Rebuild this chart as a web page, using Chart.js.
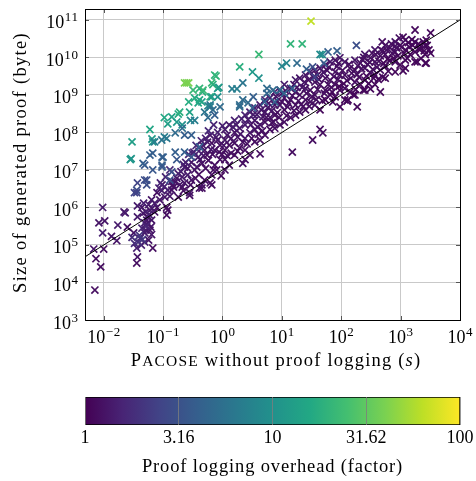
<!DOCTYPE html>
<html>
<head>
<meta charset="utf-8">
<script src="https://cdn.jsdelivr.net/npm/chart.js@4.4.1/dist/chart.umd.min.js"></script>
<style>
    html, body { margin: 0; padding: 0; background: #fff; }
    canvas { display: block; }
</style>
</head>
<body>
<canvas id="scatter" width="476" height="375"></canvas>
<canvas id="colorbar" width="476" height="106"></canvas>
<script>
// [runtime without proof logging (s), proof size (byte), overhead factor]
const lowerLeftRuns = [
    [0.0071, 6.3e3, 1.2], [0.0074, 4.3e4, 1.2], [0.0089, 2.6e4, 1.2], [0.0068, 7.8e4, 1.3],
    [0.010, 7.8e4, 1.2], [0.0096, 1.0e6, 1.4], [0.0104, 4.4e5, 1.3], [0.0083, 3.9e5, 1.3],
    [0.0096, 2.1e5, 1.5], [0.0135, 1.7e5, 1.3], [0.0166, 1.3e5, 1.3], [0.0173, 3.4e5, 1.4],
    [0.022, 7.6e5, 1.3], [0.023, 7.2e5, 1.4], [0.025, 3.0e5, 1.2], [0.032, 2.1e5, 1.3],
    [0.037, 5.6e5, 1.4], [0.046, 7.1e5, 1.3], [0.055, 5.6e5, 1.2], [0.049, 3.9e5, 1.5],
    [0.060, 2.5e5, 1.3], [0.049, 2.1e5, 1.4], [0.041, 1.5e5, 1.7], [0.033, 1.1e5, 1.8],
    [0.036, 8.3e4, 1.5], [0.037, 4.8e4, 1.3], [0.036, 3.3e4, 1.2], [0.049, 1.2e5, 1.6],
    [0.064, 1.9e5, 1.3], [0.067, 8.3e4, 1.2], [0.053, 4.6e5, 1.3], [0.044, 2.8e5, 1.6],
    [0.030, 1.6e5, 1.8], [0.055, 3.9e5, 1.4], [0.064, 4.6e5, 1.3], [0.044, 1.0e6, 1.3],
    [0.037, 1.1e6, 1.4], [0.079, 1.0e6, 1.2], [0.064, 1.6e6, 1.3], [0.079, 2.5e6, 1.2],
    [0.096, 4.0e6, 1.3], [0.115, 6.3e5, 1.2], [0.115, 1.0e6, 1.2], [0.145, 4.0e6, 1.2],
    [0.21, 3.5e6, 1.2], [0.23, 4.5e6, 1.3], [0.28, 2.1e6, 1.2], [0.41, 3.3e6, 1.2],
    [0.66, 4.0e6, 1.2], [0.45, 4.0e6, 1.3], [0.051, 7.6e5, 1.4], [0.060, 8.5e5, 1.3],
    [0.047, 1.3e6, 1.5], [0.057, 1.2e6, 1.4], [0.072, 7.6e5, 1.2], [0.062, 3.0e5, 1.3],
    [0.051, 2.5e5, 1.4], [0.043, 1.0e5, 1.5], [0.057, 1.35e5, 1.3],
    [0.040, 1.8e5, 2.0], [0.045, 1.4e5, 2.1], [0.038, 1.2e5, 1.9], [0.052, 3.2e5, 1.6],
    [0.058, 6.5e5, 1.5], [0.065, 9.5e5, 1.4]
];

const bandLowRuns = [
    [0.62, 8.5e7, 1.3], [0.66, 5.2e7, 1.2], [0.83, 6.3e7, 1.3], [0.50, 3.4e7, 1.3],
    [0.39, 2.2e7, 1.4], [0.30, 1.6e7, 1.3], [0.23, 1.2e7, 1.4], [0.21, 6.5e6, 1.3],
    [0.16, 4.8e6, 1.3], [0.12, 2.9e6, 1.4], [0.107, 1.9e6, 1.3], [0.088, 1.6e6, 1.3],
    [0.072, 1.3e6, 1.4], [0.45, 1.5e7, 1.2], [0.50, 5.4e6, 1.2], [0.66, 7.4e6, 1.2],
    [0.30, 5.4e6, 1.3], [0.45, 3.3e6, 1.2], [0.28, 2.5e6, 1.3], [0.18, 1.9e6, 1.2],
    [0.62, 4.5e6, 1.2], [0.34, 1.0e7, 1.3], [0.26, 7.4e6, 1.4], [0.19, 4.0e6, 1.3],
    [0.14, 2.9e6, 1.3], [0.42, 1.9e7, 1.3], [0.55, 2.5e7, 1.2], [0.74, 3.4e7, 1.3],
    [0.91, 4.6e7, 1.2], [0.74, 1.35e7, 1.2], [0.91, 1.9e7, 1.2], [0.37, 1.2e7, 1.3],
    [0.12, 8.5e5, 1.2], [0.83, 1.0e8, 1.5], [0.71, 1.6e8, 1.6],
    [0.13, 2.0e6, 1.3], [0.15, 3.5e6, 1.2], [0.17, 6.0e6, 1.3], [0.20, 9.0e6, 1.4],
    [0.24, 1.6e7, 1.5], [0.27, 2.6e7, 1.6], [0.33, 3.0e7, 1.5], [0.36, 4.5e7, 1.7],
    [0.44, 6.0e7, 1.6], [0.52, 7.0e7, 1.5], [0.58, 1.1e8, 1.7], [0.48, 2.4e7, 1.3],
    [0.58, 1.8e7, 1.2], [0.68, 2.6e7, 1.2], [0.80, 1.0e7, 1.2], [0.95, 7.0e6, 1.1],
    [0.35, 6.0e6, 1.2], [0.22, 2.8e6, 1.2], [0.095, 2.8e6, 1.4], [0.085, 3.3e6, 1.5],
    [0.11, 6.5e6, 1.6], [0.13, 1.0e7, 1.7], [0.09, 4.5e6, 1.6],
    [0.105, 3.6e6, 1.5], [0.14, 5.0e6, 1.4], [0.18, 8.0e6, 1.5], [0.22, 1.4e7, 1.5],
    [0.26, 1.1e7, 1.3], [0.31, 2.8e7, 1.6], [0.40, 3.2e7, 1.5], [0.47, 4.5e7, 1.4],
    [0.56, 5.5e7, 1.4], [0.64, 3.5e7, 1.3], [0.78, 7.5e7, 1.4], [0.88, 3.0e7, 1.2],
    [0.70, 1.0e7, 1.2], [0.52, 1.1e7, 1.2], [0.40, 7.5e6, 1.2], [0.29, 4.0e6, 1.2]
];

const bandMidRuns = [
    [1.1, 1.2e8, 1.4], [1.1, 6.3e7, 1.3], [1.1, 3.4e7, 1.2], [1.1, 1.9e7, 1.2], [1.1, 1.0e7, 1.2],
    [1.6, 2.1e8, 1.5], [1.6, 1.0e8, 1.3], [1.6, 5.2e7, 1.2], [1.6, 2.5e7, 1.2],
    [2.4, 2.9e8, 1.5], [2.4, 1.6e8, 1.4], [2.4, 7.0e7, 1.3], [2.4, 3.4e7, 1.2], [2.4, 1.9e7, 1.2],
    [3.5, 4.5e8, 1.5], [3.5, 2.1e8, 1.3], [3.5, 1.2e8, 1.3], [3.5, 5.6e7, 1.2],
    [5.2, 7.4e8, 1.5], [5.2, 3.5e8, 1.3], [5.2, 1.9e8, 1.2], [5.2, 8.5e7, 1.2],
    [7.6, 1.2e9, 1.4], [7.6, 5.4e8, 1.3], [7.6, 2.9e8, 1.2], [7.6, 1.3e8, 1.2],
    [11, 1.9e9, 1.4], [11, 8.3e8, 1.3], [11, 4.0e8, 1.2], [11, 1.9e8, 1.2],
    [17, 2.5e9, 1.4], [17, 1.2e9, 1.3], [17, 5.4e8, 1.2], [17, 2.9e8, 1.2],
    [25, 3.4e9, 1.3], [25, 1.5e9, 1.3], [25, 7.4e8, 1.2], [25, 4.0e8, 1.2],
    [36, 4.6e9, 1.3], [36, 2.2e9, 1.2], [36, 1.0e9, 1.2], [36, 5.4e8, 1.2],
    [54, 6.3e9, 1.3], [54, 2.8e9, 1.2], [54, 1.35e9, 1.2], [54, 7.4e8, 1.1],
    [79, 8.5e9, 1.3], [79, 4.1e9, 1.2], [79, 1.9e9, 1.2], [79, 8.9e8, 1.1],
    [1.3, 1.6e8, 1.4], [1.3, 4.6e7, 1.2], [1.3, 1.35e7, 1.2],
    [1.95, 1.3e8, 1.3], [1.95, 3.9e7, 1.2],
    [2.9, 3.5e8, 1.4], [2.9, 9.8e7, 1.3], [2.9, 2.5e7, 1.2],
    [4.3, 5.4e8, 1.4], [4.3, 1.6e8, 1.3], [4.3, 6.3e7, 1.2],
    [6.3, 8.3e8, 1.4], [6.3, 2.5e8, 1.3], [6.3, 1.2e8, 1.2],
    [9.3, 1.35e9, 1.4], [9.3, 5.4e8, 1.3], [9.3, 1.6e8, 1.2],
    [14, 1.5e9, 1.3], [14, 7.4e8, 1.2], [14, 2.5e8, 1.2],
    [20, 2.8e9, 1.3], [20, 1.0e9, 1.2], [20, 3.5e8, 1.2],
    [30, 4.1e9, 1.3], [30, 1.35e9, 1.2], [30, 6.5e8, 1.2],
    [44, 5.2e9, 1.3], [44, 1.9e9, 1.2], [44, 4.0e8, 1.1],
    [65, 7.6e9, 1.3], [65, 2.5e9, 1.2], [65, 1.0e9, 1.1],
    [95, 9.8e9, 1.3], [95, 3.4e9, 1.2], [95, 1.35e9, 1.1],
    [15, 3.0e7, 1.2], [4.3, 2.7e7, 1.2], [33, 6.3e7, 1.2], [49, 9.8e7, 1.2], [44, 1.2e8, 1.2],
    [2.2, 1.5e7, 1.2], [126, 6.9e8, 1.1], [186, 4.8e8, 1.1], [310, 1.45e9, 1.1],
    [1.2, 8.5e7, 1.3], [1.4, 2.8e7, 1.2], [1.5, 1.4e8, 1.4], [1.8, 7.5e7, 1.3],
    [2.1, 2.3e8, 1.5], [2.6, 5.0e7, 1.2], [3.0, 1.6e8, 1.3], [3.8, 3.0e8, 1.4],
    [4.0, 9.0e7, 1.2], [4.8, 2.6e8, 1.3], [5.8, 4.6e8, 1.3], [6.8, 1.8e8, 1.2],
    [8.4, 7.0e8, 1.3], [8.4, 3.4e8, 1.2], [10, 1.1e9, 1.3], [12, 2.8e8, 1.2],
    [13, 6.0e8, 1.2], [16, 1.9e9, 1.3], [19, 7.0e8, 1.2], [22, 1.6e9, 1.3],
    [23, 5.0e8, 1.2], [28, 2.5e9, 1.2], [32, 9.0e8, 1.2], [40, 3.4e9, 1.2],
    [40, 1.4e9, 1.2], [48, 7.0e8, 1.1], [58, 4.5e9, 1.2], [60, 1.9e9, 1.2],
    [70, 1.2e9, 1.1], [85, 5.8e9, 1.2], [88, 2.6e9, 1.2], [0.98, 2.6e7, 1.2], [1.0, 1.5e8, 1.5],
    [1.05, 4.5e7, 1.3], [1.2, 2.4e7, 1.2], [1.4, 7.0e7, 1.3], [1.7, 1.6e8, 1.4],
    [1.8, 3.2e7, 1.2], [2.0, 9.0e7, 1.3], [2.2, 5.5e7, 1.2], [2.7, 2.2e8, 1.4],
    [3.1, 7.0e7, 1.2], [3.3, 3.0e8, 1.4], [3.9, 1.4e8, 1.3], [4.5, 4.0e8, 1.3],
    [4.7, 1.1e8, 1.2], [5.5, 2.5e8, 1.2], [6.0, 6.0e8, 1.3], [6.8, 3.8e8, 1.3],
    [7.2, 1.9e8, 1.2], [8.0, 9.0e8, 1.3], [9.0, 2.5e8, 1.2], [10, 6.5e8, 1.2],
    [11.5, 1.3e9, 1.3], [12.5, 4.8e8, 1.2], [15, 9.5e8, 1.2], [16, 3.8e8, 1.2],
    [18, 1.6e9, 1.3], [21, 5.5e8, 1.2], [24, 2.2e9, 1.3], [26, 1.1e9, 1.2],
    [29, 5.0e8, 1.2], [34, 3.0e9, 1.3], [38, 7.5e8, 1.2], [42, 2.6e9, 1.2],
    [50, 4.0e9, 1.3], [52, 1.1e9, 1.2], [62, 5.5e9, 1.2], [68, 1.6e9, 1.2],
    [75, 3.1e9, 1.2], [90, 7.0e9, 1.2], [92, 1.7e9, 1.1]
];

const bandHighRuns = [
    [115, 7.6e9, 1.3], [115, 3.4e9, 1.2], [115, 1.5e9, 1.2], [115, 7.4e8, 1.1],
    [170, 8.5e9, 1.3], [170, 4.6e9, 1.2], [170, 2.2e9, 1.2], [170, 1.0e9, 1.1],
    [250, 1.2e10, 1.3], [250, 5.2e9, 1.2], [250, 2.5e9, 1.2], [250, 1.35e9, 1.1],
    [370, 1.6e10, 1.3], [370, 7.6e9, 1.2], [370, 3.4e9, 1.2], [370, 1.9e9, 1.1],
    [550, 2.1e10, 1.3], [550, 1.2e10, 1.2], [550, 5.9e9, 1.2], [550, 2.8e9, 1.1],
    [810, 2.6e10, 1.3], [810, 1.4e10, 1.2], [810, 7.6e9, 1.2], [810, 4.1e9, 1.1],
    [1200, 2.9e10, 1.2], [1200, 1.6e10, 1.2], [1200, 8.5e9, 1.1], [1200, 5.2e9, 1.1],
    [1750, 2.6e10, 1.2], [1750, 1.4e10, 1.1], [1750, 7.6e9, 1.1],
    [2600, 2.1e10, 1.2], [2600, 1.2e10, 1.1], [2600, 7.1e9, 1.1],
    [140, 5.2e9, 1.2], [140, 1.2e9, 1.1], [210, 7.1e9, 1.2], [210, 1.9e9, 1.1],
    [310, 9.8e9, 1.2], [310, 3.9e9, 1.2], [455, 1.1e10, 1.2], [455, 4.6e9, 1.2],
    [455, 1.2e9, 1.1], [660, 1.8e10, 1.2], [660, 8.5e9, 1.1], [980, 2.1e10, 1.2],
    [980, 6.3e9, 1.1], [1450, 1.2e10, 1.1], [2100, 1.8e10, 1.1],
    [1750, 5.4e10, 1.1], [3200, 4.5e10, 1.1], [1100, 3.5e10, 1.1], [1350, 2.5e10, 1.1],
    [2700, 2.9e10, 1.1], [490, 2.6e10, 1.2], [810, 2.0e10, 1.2], [1900, 7.6e9, 1.1],
    [2700, 7.1e9, 1.1], [1100, 4.4e9, 1.1], [500, 3.0e9, 1.1], [350, 2.8e9, 1.1],
    [235, 1.35e9, 1.1], [130, 7.4e8, 1.1], [160, 1.0e9, 1.1], [72, 6.5e8, 1.1],
    [95, 4.8e8, 1.1], [2800, 2.1e10, 1.1], [2100, 1.6e10, 1.1], [3200, 1.3e10, 1.1],
    [125, 2.4e9, 1.2], [150, 3.8e9, 1.2], [190, 6.0e9, 1.2], [200, 3.0e9, 1.1],
    [230, 8.5e9, 1.2], [280, 6.5e9, 1.2], [290, 2.0e9, 1.1], [330, 1.3e10, 1.2],
    [400, 5.5e9, 1.2], [420, 2.6e9, 1.1], [500, 1.5e10, 1.2], [600, 9.0e9, 1.1],
    [620, 4.3e9, 1.1], [720, 1.3e10, 1.2], [900, 1.1e10, 1.1], [950, 3.3e10, 1.2],
    [1050, 1.9e10, 1.1], [1300, 9.5e9, 1.1], [1600, 2.1e10, 1.1], [2200, 9.5e9, 1.1],
    [2400, 2.6e10, 1.1], [3000, 1.6e10, 1.1],
    [105, 4.5e9, 1.2], [110, 2.0e9, 1.1], [135, 6.5e9, 1.2], [145, 2.8e9, 1.2],
    [175, 1.4e9, 1.1], [185, 3.5e9, 1.2], [220, 5.0e9, 1.2], [240, 1.0e10, 1.2],
    [265, 3.2e9, 1.1], [300, 7.5e9, 1.2], [340, 4.8e9, 1.2], [380, 1.2e10, 1.2],
    [430, 8.0e9, 1.2], [470, 1.6e10, 1.2], [520, 7.0e9, 1.1], [580, 1.6e10, 1.2],
    [700, 2.3e10, 1.2], [760, 9.5e9, 1.1], [850, 1.8e10, 1.2], [1150, 1.3e10, 1.1],
    [1400, 1.9e10, 1.1], [1550, 3.0e10, 1.1], [2000, 2.3e10, 1.1], [2500, 1.5e10, 1.1]
];

const costlyRuns = [
    [0.030, 5.6e7, 13], [0.028, 1.9e7, 11], [0.029, 2.0e7, 11],
    [0.060, 1.2e8, 15], [0.065, 6.7e7, 12], [0.067, 5.6e7, 11],
    [0.115, 7.0e7, 6], [0.105, 2.5e8, 16], [0.14, 2.6e8, 14], [0.18, 3.1e8, 16],
    [0.12, 1.7e8, 13], [0.17, 1.9e8, 12], [0.21, 1.6e8, 10], [0.19, 3.5e8, 18],
    [0.28, 3.5e8, 14], [0.39, 6.2e8, 15], [0.27, 6.5e8, 17], [0.45, 6.5e8, 13],
    [0.29, 2.1e8, 8], [0.34, 2.1e8, 7], [0.62, 5.4e8, 6], [0.91, 4.8e8, 5],
    [0.105, 7.6e7, 7], [0.072, 5.6e7, 7], [0.095, 6.3e7, 6], [0.16, 9.8e7, 5],
    [0.21, 1.3e8, 5], [0.23, 8.5e7, 4], [0.060, 2.5e7, 4], [0.067, 1.0e7, 3.5],
    [0.049, 1.35e7, 3.5], [0.096, 1.35e7, 4], [0.10, 2.2e7, 4], [0.14, 8.9e6, 3],
    [0.13, 5.4e6, 3], [0.049, 5.4e6, 3], [0.053, 4.0e6, 3], [0.036, 2.9e6, 3],
    [0.036, 2.5e6, 2.5], [0.037, 4.5e6, 2.5], [0.033, 2.5e6, 2.5],
    [0.16, 3.0e7, 4], [0.17, 1.9e7, 3.5], [0.23, 3.0e7, 4], [0.30, 2.2e7, 3.5],
    [0.23, 2.1e9, 40], [0.25, 2.1e9, 40], [0.27, 2.1e9, 40],
    [0.32, 1.35e9, 22], [0.41, 1.5e9, 20], [0.46, 1.2e9, 18], [0.34, 8.3e8, 17],
    [0.66, 2.1e9, 22], [0.78, 3.2e9, 20], [0.83, 1.5e9, 12], [0.83, 8.9e8, 10],
    [0.62, 8.9e8, 18], [0.41, 7.4e8, 16], [0.57, 5.1e8, 8], [1.45, 1.45e9, 7],
    [1.75, 1.45e9, 7], [1.95, 5.6e9, 18], [1.95, 4.8e8, 5], [0.30, 8.5e7, 4],
    [0.41, 4.1e7, 4], [0.053, 5.4e6, 3], [0.046, 1.5e7, 4], [0.067, 2.8e7, 4],
    [0.096, 2.2e7, 4], [0.096, 1.2e7, 3.5],
    [14, 2.3e10, 20], [22, 2.3e10, 20], [4.1, 1.2e10, 22], [3.2, 4.1e9, 12],
    [4.1, 2.8e9, 10], [2.2, 2.1e9, 6], [0.74, 3.4e9, 20], [0.69, 1.9e9, 18],
    [0.47, 1.35e9, 22], [0.87, 1.6e9, 12], [0.66, 8.9e8, 12], [0.62, 4.8e8, 7],
    [44, 1.2e10, 9], [48, 1.2e10, 9], [60, 1.4e10, 4], [85, 1.5e10, 4],
    [12, 7.1e9, 8], [10, 5.9e9, 8], [18, 7.1e9, 5], [26, 4.9e9, 4], [51, 7.1e9, 4],
    [5.6, 1.5e9, 5], [7.1, 1.35e9, 5], [9.4, 1.35e9, 5], [15, 1.5e9, 4],
    [5.6, 1.1e9, 4.5], [11, 1.1e9, 4.5], [2.2, 7.4e8, 5], [1.95, 5.4e8, 5],
    [2.7, 6.2e8, 5], [3.2, 4.5e8, 4], [3.3, 8.9e8, 4], [5.1, 6.5e8, 4], [7.6, 6.5e8, 4],
    [33, 5.6e9, 3], [36, 3.0e9, 2.5], [180, 2.1e10, 3],
    [0.50, 3.5e8, 6], [0.69, 4.0e8, 5], [0.57, 2.5e8, 5], [0.74, 2.9e8, 4],
    [31, 9.3e10, 65]
];

// y = 1e7 * x reference line
const diagonalX = [0.00484, 1e4];
const diagonalY = [4.84e4, 1e11];

const xTickValues = [1e-2, 1e-1, 1e0, 1e1, 1e2, 1e3, 1e4];
const xTickExponents = ['−2', '−1', '0', '1', '2', '3', '4'];
const yTickValues = [1e3, 1e4, 1e5, 1e6, 1e7, 1e8, 1e9, 1e10, 1e11];
const yTickExponents = ['3', '4', '5', '6', '7', '8', '9', '10', '11'];
const colorTickValues = [1, 3.1623, 10, 31.623, 100];
const colorTickLabels = ['1', '3.16', '10', '31.62', '100'];

const viridisStops = ['#440154', '#482475', '#414487', '#355f8d', '#2a788e', '#21918c',
    '#22a884', '#44bf70', '#7ad151', '#bddf26', '#fde725'];

const FONT = "'Liberation Serif', 'DejaVu Serif', serif";

function hexToRgb(h) {
    return [parseInt(h.slice(1, 3), 16), parseInt(h.slice(3, 5), 16), parseInt(h.slice(5, 7), 16)];
}

function viridis(f) {
    let t = Math.log10(f) / 2;
    t = Math.max(0, Math.min(1, t));
    const p = t * 10;
    const i = Math.min(9, Math.floor(p));
    const u = p - i;
    const a = hexToRgb(viridisStops[i]);
    const b = hexToRgb(viridisStops[i + 1]);
    const c = a.map((v, k) => Math.round(v + (b[k] - v) * u));
    return 'rgb(' + c.join(',') + ')';
}

// "10" with a raised exponent; align 'center' or 'right' on x
function drawPower(c, exp, x, baseline, align) {
    c.letterSpacing = '0px';
    c.font = '18px ' + FONT;
    const wb = c.measureText('10').width;
    c.font = '13px ' + FONT;
    c.letterSpacing = '0.6px';
    const we = c.measureText(exp).width;
    const left = align === 'center' ? x - (wb + we) / 2 : x - wb - we;
    c.fillText(exp, left + wb + 0.5, baseline - 7);
    c.letterSpacing = '0px';
    c.font = '18px ' + FONT;
    c.fillText('10', left, baseline);
}

// text made of runs of different fonts, centred on cx
function drawRuns(c, runs, cx, baseline, spacing) {
    c.letterSpacing = spacing + 'px';
    let total = 0;
    runs.forEach(r => { c.font = r[1]; total += c.measureText(r[0]).width; });
    let x = cx - total / 2;
    runs.forEach(r => {
        c.font = r[1];
        c.fillText(r[0], x, baseline);
        x += c.measureText(r[0]).width;
    });
}

const allRuns = [...lowerLeftRuns, ...bandLowRuns, ...bandMidRuns, ...bandHighRuns, ...costlyRuns];
const points = allRuns.map(r => ({x: r[0], y: r[1], f: r[2]}));
const diagonal = diagonalX.map((x, i) => ({x: x, y: diagonalY[i]}));

const frameAndLabels = {
    id: 'frameAndLabels',
    afterDraw(chart) {
        const c = chart.ctx;
        const a = chart.chartArea;
        const xs = chart.scales.x;
        const ys = chart.scales.y;
        c.save();
        c.strokeStyle = '#555';
        c.lineWidth = 1;
        c.beginPath();
        xTickValues.forEach(v => {
            const px = Math.round(xs.getPixelForValue(v)) + 0.5;
            c.moveTo(px, a.bottom); c.lineTo(px, a.bottom - 4);
            c.moveTo(px, a.top); c.lineTo(px, a.top + 4);
        });
        yTickValues.forEach(v => {
            const py = Math.round(ys.getPixelForValue(v)) + 0.5;
            c.moveTo(a.left, py); c.lineTo(a.left + 4, py);
            c.moveTo(a.right, py); c.lineTo(a.right - 4, py);
        });
        c.stroke();
        c.strokeStyle = '#000';
        c.beginPath();
        c.rect(Math.round(a.left) + 0.5, Math.round(a.top) + 0.5,
            Math.round(a.right - a.left), Math.round(a.bottom - a.top));
        c.stroke();

        c.fillStyle = '#000';
        c.textBaseline = 'alphabetic';
        c.textAlign = 'left';
        xTickValues.forEach((v, i) => {
            drawPower(c, xTickExponents[i], xs.getPixelForValue(v), a.bottom + 23, 'center');
        });
        yTickValues.forEach((v, i) => {
            drawPower(c, yTickExponents[i], a.left - 7, ys.getPixelForValue(v) + 8.5, 'right');
        });

        drawRuns(c, [
            ['P', '18.5px ' + FONT],
            ['ACOSE', '15.5px ' + FONT],
            [' without proof logging (', '18.5px ' + FONT],
            ['s', 'italic 18.5px ' + FONT],
            [')', '18.5px ' + FONT]
        ], 276, 366, 1.2);

        c.translate(21, (a.top + a.bottom) / 2 - 2);
        c.rotate(-Math.PI / 2);
        c.textBaseline = 'middle';
        drawRuns(c, [['Size of generated proof (byte)', '18.5px ' + FONT]], 0, 0, 1.3);
        c.restore();
    }
};

const colorbarTitle = {
    id: 'colorbarTitle',
    afterDraw(chart) {
        const c = chart.ctx;
        const a = chart.chartArea;
        c.save();
        c.fillStyle = '#000';
        c.textBaseline = 'alphabetic';
        c.textAlign = 'left';
        drawRuns(c, [['Proof logging overhead (factor)', '18.5px ' + FONT]], (a.left + a.right) / 2, 97, 0.85);
        c.restore();
    }
};

new Chart(document.getElementById('scatter'), {
    data: {
        datasets: [
            {
                type       : 'line',
                data       : diagonal,
                borderColor: '#000',
                borderWidth: 1,
                pointRadius: 0,
                fill       : false
            },
            {
                type            : 'scatter',
                data            : points,
                pointStyle      : 'crossRot',
                pointRadius     : 5,
                pointBorderWidth: 1.7,
                pointBorderColor: ctx => ctx.raw ? viridis(ctx.raw.f) : '#000',
                pointBackgroundColor: 'rgba(0,0,0,0)'
            }
        ]
    },
    options: {
        responsive: false,
        animation : false,
        events    : [],
        layout    : {padding: {left: 0, right: 16, top: 9, bottom: 0}},
        plugins   : {legend: {display: false}, tooltip: {enabled: false}},
        scales    : {
            x: {
                type: 'logarithmic',
                min : 0.00484,
                max : 1e4,
                afterBuildTicks: s => { s.ticks = xTickValues.map(v => ({value: v})); },
                afterFit: s => { s.height = 55; },
                ticks : {display: false, autoSkip: false},
                grid  : {color: '#c9c9c9', lineWidth: 1, drawTicks: false},
                border: {display: true, color: '#000', width: 1}
            },
            y: {
                type: 'logarithmic',
                min : 1e3,
                max : 1.96e11,
                afterBuildTicks: s => { s.ticks = yTickValues.map(v => ({value: v})); },
                afterFit: s => { s.width = 85; },
                ticks : {display: false, autoSkip: false},
                grid  : {color: '#c9c9c9', lineWidth: 1, drawTicks: false},
                border: {display: true, color: '#000', width: 1}
            }
        }
    },
    plugins: [frameAndLabels]
});

new Chart(document.getElementById('colorbar'), {
    type: 'bar',
    data: {
        labels  : ['overhead'],
        datasets: [{
            data           : [[colorTickValues[0], colorTickValues[colorTickValues.length - 1]]],
            backgroundColor: ctx => {
                const a = ctx.chart.chartArea;
                if (!a) return '#440154';
                const g = ctx.chart.ctx.createLinearGradient(a.left, 0, a.right, 0);
                viridisStops.forEach((col, i) => g.addColorStop(i / 10, col));
                return g;
            },
            borderColor       : '#000',
            borderWidth       : 1,
            borderSkipped     : false,
            barPercentage     : 1,
            categoryPercentage: 1
        }]
    },
    options: {
        indexAxis : 'y',
        responsive: false,
        animation : false,
        events    : [],
        layout    : {padding: {left: 85, right: 16, top: 22, bottom: 0}},
        plugins   : {legend: {display: false}, tooltip: {enabled: false}},
        scales    : {
            y: {display: false},
            x: {
                type: 'logarithmic',
                min : 1,
                max : 100,
                afterBuildTicks: s => { s.ticks = colorTickValues.map(v => ({value: v})); },
                afterFit: s => { s.height = 56; },
                ticks : {
                    callback   : (v, i) => colorTickLabels[i],
                    autoSkip   : false,
                    maxRotation: 0,
                    padding    : 2,
                    color      : '#000',
                    font       : {family: FONT, size: 18}
                },
                grid  : {color: 'rgba(125,125,125,0.8)', lineWidth: 1, drawTicks: false, z: 1},
                border: {display: false}
            }
        }
    },
    plugins: [colorbarTitle]
});
</script>
</body>
</html>
